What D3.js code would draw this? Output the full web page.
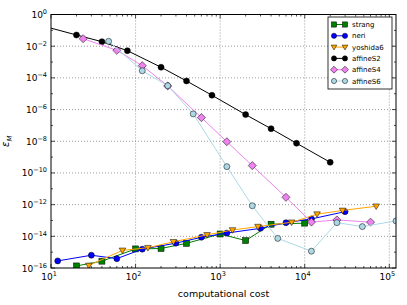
<!DOCTYPE html>
<html>
<head>
<meta charset="utf-8">
<script src="https://cdn.jsdelivr.net/npm/d3@7"></script>
<style>
  body { margin: 0; background: #fff; }
  svg { font-family: "DejaVu Sans", sans-serif; }
</style>
</head>
<body>
<div id="chart"></div>
<script>
// data
var strangX = [20, 40, 100, 200, 400, 1000, 2000, 4000, 10000];
var strangY = [1.35e-16, 2.7e-16, 1.6e-15, 1.7e-15, 3.6e-15, 1.4e-14, 5.4e-15, 5.8e-14, 6.8e-14];

var neriX = [12, 30, 60, 120, 300, 600, 1200, 3000, 6000, 12000, 30000];
var neriY = [2.8e-16, 6.4e-16, 3.9e-16, 1.55e-15, 3.7e-15, 8.7e-15, 1.6e-14, 3.2e-14, 7.2e-14, 1.25e-13, 3.6e-13];

var yoshidaX = [28, 70, 140, 280, 700, 1400, 2800, 7000, 14000, 28000, 70000];
var yoshidaY = [1.45e-16, 1.3e-15, 1.9e-15, 4.5e-15, 1.23e-14, 2.5e-14, 4.1e-14, 7.7e-14, 2.5e-13, 4.3e-13, 7.9e-13];

var s2X = [8, 20, 40, 80, 200, 400, 800, 2000, 4000, 8000, 20000];
var s2Y = [1.9e-1, 5.1e-2, 1.92e-2, 5.2e-3, 4.7e-4, 6.4e-5, 8e-6, 4.8e-7, 6.2e-8, 7.5e-9, 4.7e-10];

var s4X = [24, 60, 120, 240, 600, 1200, 2400, 6000, 12000, 24000, 60000];
var s4Y = [2.97e-2, 5.5e-3, 5.9e-4, 3.1e-5, 3.1e-7, 9.4e-9, 2.9e-10, 2.9e-12, 7.9e-14, 1.08e-13, 7.8e-14];

var s6X = [48, 120, 240, 480, 1200, 2400, 4800, 12000, 24000, 48000, 120000];
var s6Y = [2.04e-2, 2.8e-4, 3.2e-5, 5.3e-7, 2.5e-10, 8.5e-13, 7.4e-15, 1.15e-15, 7.3e-14, 4.1e-14, 9.4e-14];

var xTicks = [10, 100, 1000, 10000, 100000];
var yTicks = [1, 1e-2, 1e-4, 1e-6, 1e-8, 1e-10, 1e-12, 1e-14, 1e-16];

var series = [
  {name: "strang",    xs: strangX,  ys: strangY,  color: "#008000", marker: "square"},
  {name: "neri",      xs: neriX,    ys: neriY,    color: "#0000ff", marker: "circle"},
  {name: "yoshida6",  xs: yoshidaX, ys: yoshidaY, color: "#ffa500", marker: "tri"},
  {name: "affineS2",  xs: s2X,      ys: s2Y,      color: "#000000", marker: "circle"},
  {name: "affineS4",  xs: s4X,      ys: s4Y,      color: "#ee82ee", marker: "diamond"},
  {name: "affineS6",  xs: s6X,      ys: s6Y,      color: "#add8e6", marker: "circle"}
];

var W = 407, H = 305;
var margin = {top: 14.5, right: 11, bottom: 37, left: 51},
    width = W - margin.left - margin.right,
    height = H - margin.top - margin.bottom;

var x = d3.scaleLog().domain([10, 1.2e5]).range([0, width]);
var y = d3.scaleLog().domain([1e-16, 1]).range([height, 0]);

var svg = d3.select("#chart").append("svg")
    .attr("width", W)
    .attr("height", H)
  .append("g")
    .attr("transform", "translate(" + margin.left + "," + margin.top + ")");

svg.append("defs").append("clipPath").attr("id", "clip")
  .append("rect").attr("width", width).attr("height", height);

// grid
var grid = svg.append("g");
xTicks.forEach(function(t) {
  var px = x(t);
  if (px <= 0.5 || px >= width - 0.5) return;
  grid.append("line").attr("x1", px).attr("x2", px).attr("y1", 0).attr("y2", height)
    .attr("stroke", "#555").attr("stroke-width", 0.6).attr("stroke-dasharray", "1,2");
});
yTicks.forEach(function(t) {
  var py = y(t);
  if (py <= 0.5 || py >= height - 0.5) return;
  grid.append("line").attr("x1", 0).attr("x2", width).attr("y1", py).attr("y2", py)
    .attr("stroke", "#555").attr("stroke-width", 0.6).attr("stroke-dasharray", "1,2");
});

// ticks (inward, on all four sides)
var ticks = svg.append("g").attr("stroke", "#000").attr("stroke-width", 0.7);
for (var e = 1; e <= 5; e++) {
  for (var m = 1; m <= 9; m++) {
    var v = m * Math.pow(10, e);
    if (v > 1.2e5) break;
    var len = m === 1 ? 4 : 2;
    var px = x(v);
    ticks.append("line").attr("x1", px).attr("x2", px).attr("y1", height).attr("y2", height - len);
    ticks.append("line").attr("x1", px).attr("x2", px).attr("y1", 0).attr("y2", len);
  }
}
for (var k = 0; k <= 16; k++) {
  var py = y(Math.pow(10, -k));
  var len = k % 2 === 0 ? 4 : 2;
  ticks.append("line").attr("x1", 0).attr("x2", len).attr("y1", py).attr("y2", py);
  ticks.append("line").attr("x1", width).attr("x2", width - len).attr("y1", py).attr("y2", py);
}

// tick labels
function powLabel(sel, exp) {
  sel.append("tspan").text("10");
  sel.append("tspan").attr("dy", -4).attr("font-size", 6.5).text(exp);
}
xTicks.forEach(function(t) {
  var exp = String(Math.round(Math.log10(t)));
  var txt = svg.append("text").attr("x", x(t) - 2).attr("y", height + 12)
    .attr("font-size", 9).attr("text-anchor", "middle").attr("fill", "#000");
  powLabel(txt, exp);
});
yTicks.forEach(function(t) {
  var exp = String(Math.round(Math.log10(t))).replace("-", "\u2212");
  var txt = svg.append("text").attr("x", -4).attr("y", y(t) + 3.5)
    .attr("font-size", 9).attr("text-anchor", "end").attr("fill", "#000");
  powLabel(txt, exp);
});

// axis labels
svg.append("text").attr("x", width / 2).attr("y", height + 29)
  .attr("text-anchor", "middle").attr("font-size", 9.5).text("computational cost");

var yl = svg.append("text")
  .attr("transform", "translate(" + (-42) + "," + (height / 2) + ") rotate(-90)")
  .attr("text-anchor", "middle").attr("font-size", 10).attr("font-style", "italic");
yl.append("tspan").text("\u03b5");
yl.append("tspan").attr("dy", 2.5).attr("font-size", 7).text("M");

// markers
function drawMarker(g, type, cx, cy, color, r) {
  if (type === "square") {
    g.append("rect").attr("x", cx - r).attr("y", cy - r).attr("width", 2 * r).attr("height", 2 * r)
      .attr("fill", color).attr("stroke", "#000").attr("stroke-width", 0.5);
  } else if (type === "circle") {
    g.append("circle").attr("cx", cx).attr("cy", cy).attr("r", r)
      .attr("fill", color).attr("stroke", "#000").attr("stroke-width", 0.5);
  } else if (type === "tri") {
    var s = r * 1.1;
    g.append("path").attr("d", "M" + (cx - s) + "," + (cy - s * 0.7) + "L" + (cx + s) + "," + (cy - s * 0.7) +
        "L" + cx + "," + (cy + s * 1.0) + "Z")
      .attr("fill", color).attr("stroke", "#000").attr("stroke-width", 0.5);
  } else if (type === "diamond") {
    var d = r * 1.35;
    g.append("path").attr("d", "M" + cx + "," + (cy - d) + "L" + (cx + d) + "," + cy +
        "L" + cx + "," + (cy + d) + "L" + (cx - d) + "," + cy + "Z")
      .attr("fill", color).attr("stroke", "#000").attr("stroke-width", 0.5);
  }
}

var plot = svg.append("g").attr("clip-path", "url(#clip)");
var line = d3.line().x(function(d) { return x(d[0]); }).y(function(d) { return y(d[1]); });

series.forEach(function(s) {
  var pts = s.xs.map(function(v, i) { return [v, s.ys[i]]; });
  var g = plot.append("g");
  g.append("path").datum(pts).attr("d", line)
    .attr("fill", "none").attr("stroke", s.color).attr("stroke-width", 1);
  pts.forEach(function(p) {
    drawMarker(g, s.marker, x(p[0]), y(p[1]), s.color, 3);
  });
});

// frame
svg.append("rect").attr("width", width).attr("height", height)
  .attr("fill", "none").attr("stroke", "#000").attr("stroke-width", 1);

// legend
var lg = svg.append("g").attr("transform", "translate(" + (328 - margin.left) + "," + (17 - margin.top) + ")");
lg.append("rect").attr("width", 64).attr("height", 72)
  .attr("fill", "#fff").attr("stroke", "#000").attr("stroke-width", 0.8);
series.forEach(function(s, i) {
  var cy = 7.5 + i * 11.3;
  lg.append("line").attr("x1", 6).attr("x2", 17).attr("y1", cy).attr("y2", cy)
    .attr("stroke", s.color).attr("stroke-width", 1);
  drawMarker(lg, s.marker, 6, cy, s.color, 2.6);
  drawMarker(lg, s.marker, 17, cy, s.color, 2.6);
  lg.append("text").attr("x", 24).attr("y", cy + 2.6).attr("font-size", 7)
    .attr("textLength", null).text(s.name);
});
</script>
</body>
</html>
